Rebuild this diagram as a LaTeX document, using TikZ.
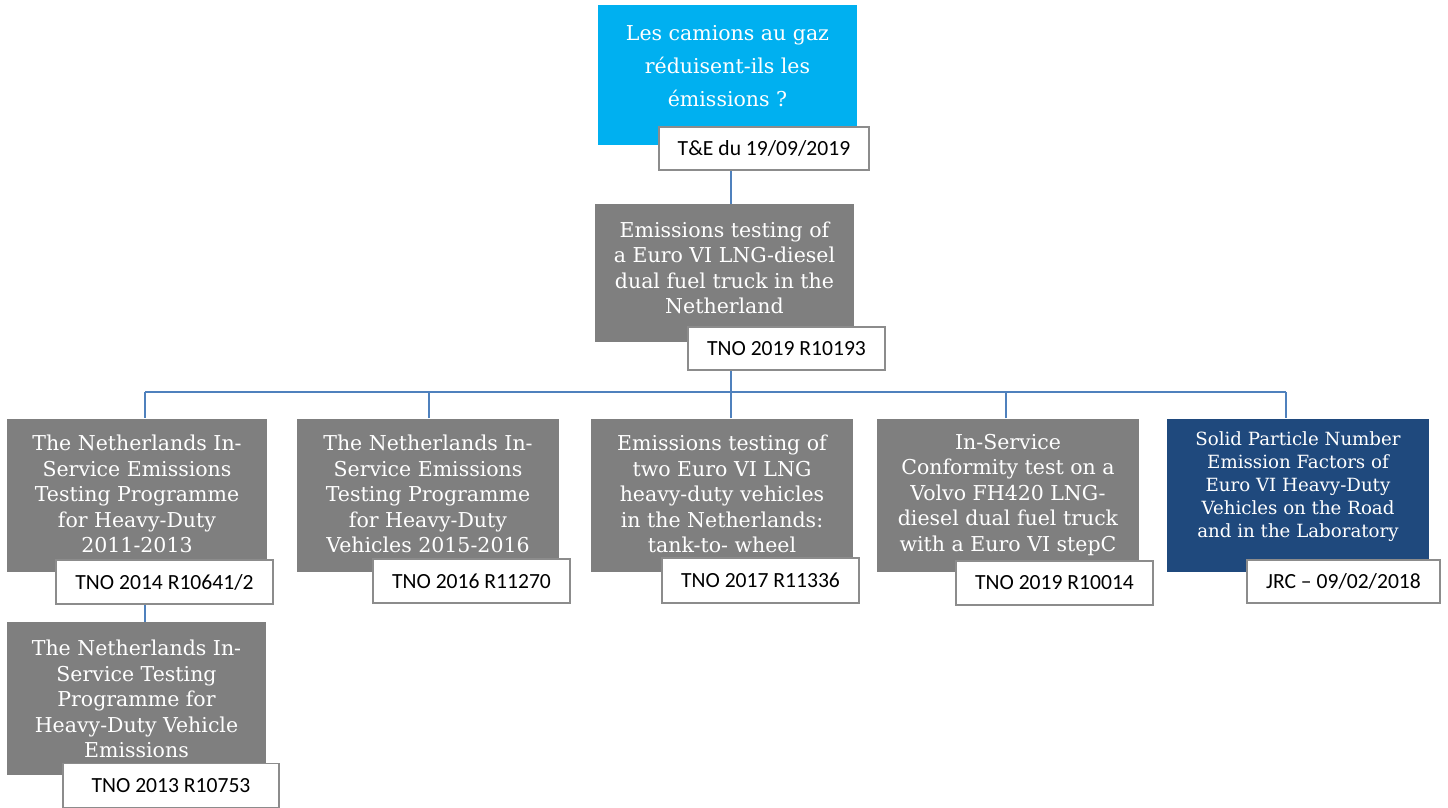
\documentclass[tikz,border=0pt]{standalone}
\usepackage{fontspec}
\setmainfont{DejaVu Serif}
\newfontfamily\lblfont{Carlito}
\definecolor{qcyan}{HTML}{00B0F0}
\definecolor{boxgray}{HTML}{7F7F7F}
\definecolor{boxnavy}{HTML}{1F497D}
\definecolor{connblue}{HTML}{4F81BD}
\definecolor{lblgray}{HTML}{8C8C8C}
\begin{document}
\begin{tikzpicture}[x=1pt,y=-1pt,
  panel/.style={rectangle, inner sep=0pt, draw=none, fill=boxgray, minimum height=153pt, minimum width=262pt},
  ptext/.style={inner sep=0pt, text=white, align=center, font=\fontsize{20.5}{25.5}\selectfont},
  etext/.style={inner sep=0pt, text=white, align=center, font=\fontsize{18.2}{23}\selectfont},
  lbl/.style={rectangle, draw=lblgray, line width=1.2pt, fill=white, inner sep=0pt, minimum height=44pt, minimum width=197pt, font=\lblfont\fontsize{21.6}{25}\selectfont},
  conn/.style={draw=connblue, line width=2pt}]
\useasboundingbox (0,0) rectangle (1448,808);

% top question
\node[panel, fill=qcyan, minimum width=259pt, minimum height=139pt] (q) at (727.5,75) {};
\node[ptext, font=\fontsize{20.5}{33}\selectfont] (qt) at (727.5,66) {Les camions au gaz\\réduisent-ils les\\émissions ?};
\node[lbl, minimum width=210pt, minimum height=43pt] (te) at (764,148.5) {T\&E du 19/09/2019};

% second level
\node[panel, minimum width=259pt, minimum height=138pt] (b2) at (724.5,273) {};
\node[ptext] (b2t) at (724.5,268) {Emissions testing of\\a Euro VI LNG-diesel\\dual fuel truck in the\\Netherland};
\node[lbl, minimum height=43pt] (b2l) at (786.5,348.5) {TNO 2019 R10193};

% row
\node[panel, minimum width=260pt] (a) at (137,495) {};
\node[ptext] (at) at (137,494) {The Netherlands In-\\Service Emissions\\Testing Programme\\for Heavy-Duty\\2011-2013};
\node[lbl, minimum width=217pt] (al) at (164.5,582) {TNO 2014 R10641/2};

\node[panel] (b) at (428,495) {};
\node[ptext] (bt) at (428,494) {The Netherlands In-\\Service Emissions\\Testing Programme\\for Heavy-Duty\\Vehicles 2015-2016};
\node[lbl] (bl) at (471.5,581) {TNO 2016 R11270};

\node[panel] (c) at (722,495) {};
\node[ptext] (ct) at (722,494) {Emissions testing of\\two Euro VI LNG\\heavy-duty vehicles\\in the Netherlands:\\tank-to- wheel};
\node[lbl, minimum height=45pt] (cl) at (760.5,580.5) {TNO 2017 R11336};

\node[panel] (d) at (1008,495) {};
\node[ptext] (dt) at (1008,495) {In-Service\\Conformity test on a\\Volvo FH420 LNG-\\diesel dual fuel truck\\with a Euro VI stepC};
\node[lbl] (dl) at (1054.5,583) {TNO 2019 R10014};

\node[panel, fill=boxnavy] (e) at (1298,495) {};
\node[etext] (et) at (1298,486.5) {Solid Particle Number\\Emission Factors of\\Euro VI Heavy-Duty\\Vehicles on the Road\\and in the Laboratory};
\node[lbl, minimum width=193pt, minimum height=43pt] (el) at (1343.5,581.5) {JRC – 09/02/2018};

% bottom
\node[panel, minimum width=259pt] (a2) at (136.5,698.5) {};
\node[ptext] (a2t) at (136.5,699) {The Netherlands In-\\Service Testing\\Programme for\\Heavy-Duty Vehicle\\Emissions};
\node[lbl, minimum width=216pt, minimum height=44pt] (a2l) at (171,785.5) {TNO 2013 R10753};

% connectors
\coordinate (tx) at (731,0);
\coordinate (busL) at (145,392);
\coordinate (busR) at (1286,392);
\draw[conn] (te.south -| tx) -- (b2.north -| tx);
\draw[conn] (b2l.south -| tx) -- (tx |- busL);
\draw[conn] (busL) -- (busR);
\draw[conn] (busL) -- (a.north -| busL);
\draw[conn] (b.north -| 429,0) -- (429,392);
\draw[conn] (c.north -| tx) -- (tx |- busL);
\draw[conn] (d.north -| 1006,0) -- (1006,392);
\draw[conn] (busR) -- (e.north -| busR);
\draw[conn] (al.south -| busL) -- (a2.north -| busL);
\end{tikzpicture}
\end{document}
